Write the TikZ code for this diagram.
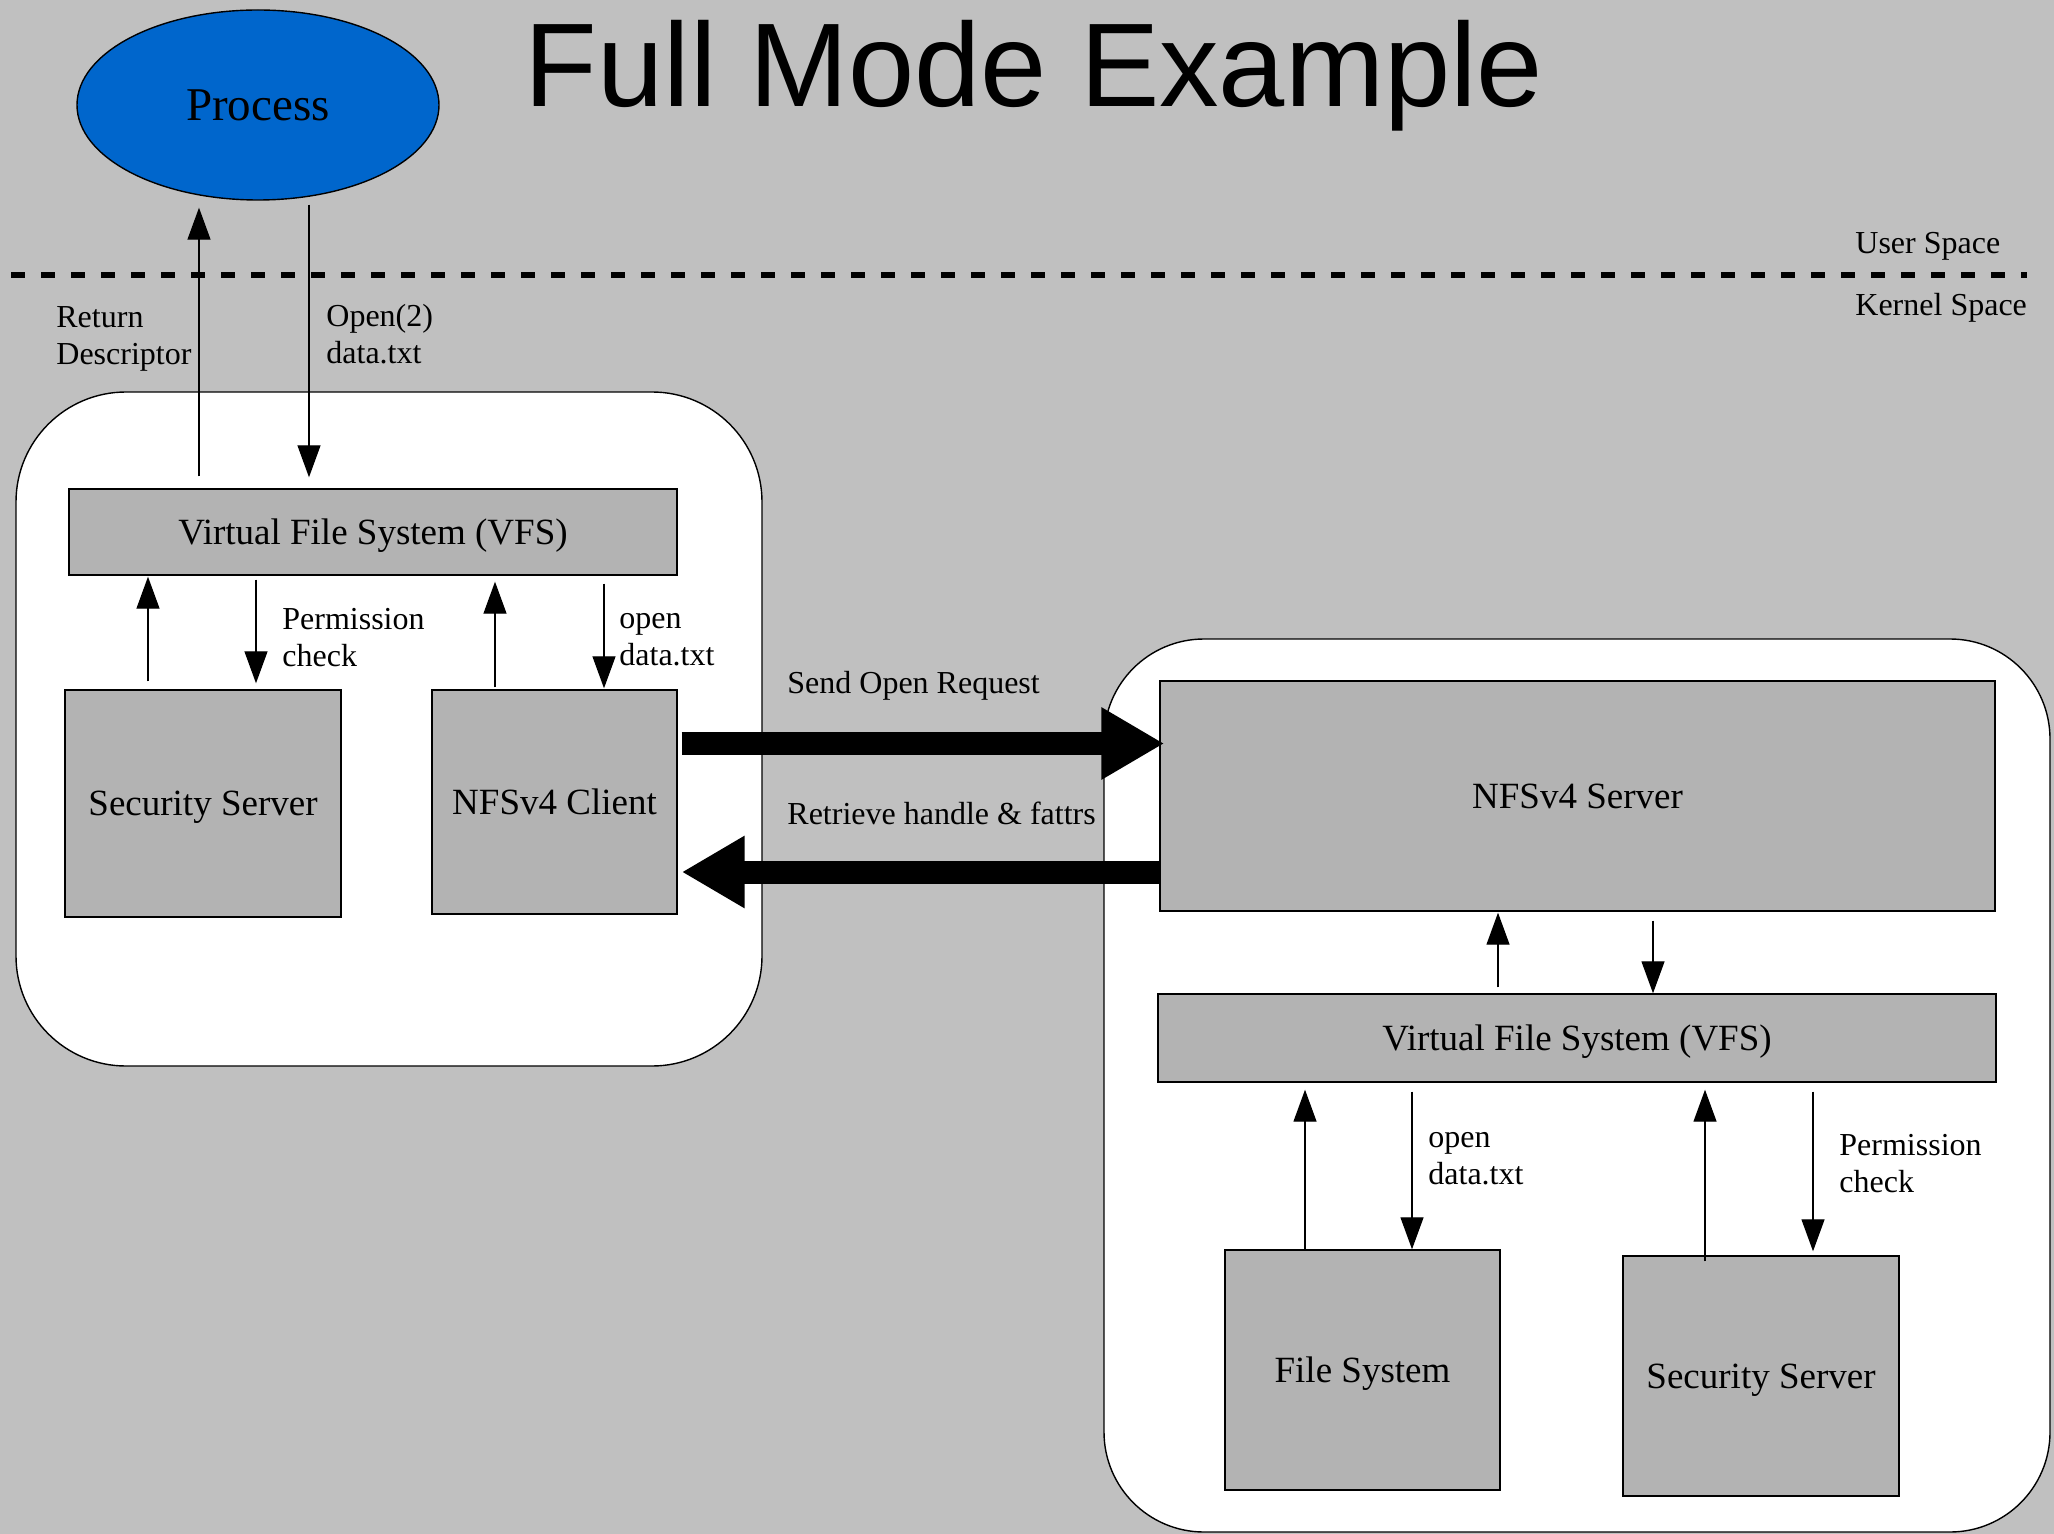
\documentclass[tikz,border=0pt]{standalone}
\usepackage{fontspec}
\setmainfont{Liberation Serif}
\newfontfamily\titlefont{Liberation Sans}
\usetikzlibrary{arrows.meta,shapes.geometric}
\definecolor{bg}{HTML}{C0C0C0}
\definecolor{boxgray}{HTML}{B3B3B3}
\definecolor{procblue}{HTML}{0066CC}
\begin{document}
\begin{tikzpicture}[x=0.5pt,y=-0.5pt,
  container/.style={draw=black, line width=0.7pt, fill=white, rounded corners=#1, inner sep=0},
  graybox/.style={draw=black, line width=0.7pt, fill=boxgray, inner sep=0, text depth=0pt, font=\fontsize{18.5}{22}\selectfont},
  lbl/.style={inner sep=0, anchor=west, align=left, font=\fontsize{16}{18.5}\selectfont},
  arr/.style={line width=0.65pt, -{Triangle[length=16pt,width=11.5pt]}},
  bigarr/.style={line width=11.5pt, -{Triangle[length=31.5pt,width=34pt]}}
]
\fill[bg] (0,0) rectangle (2054,1534);
\useasboundingbox (0,0) rectangle (2054,1534);

% title and separator
\node[inner sep=0, anchor=base, font=\titlefont\fontsize{59.5}{70}\selectfont] (title) at (1034,107) {Full Mode Example};
\draw[line width=3pt, dash pattern=on 7pt off 8pt] (11,275) -- (2027,275);
\node[lbl] (luser) at (1855,246) {User Space};
\node[lbl] (lkern) at (1855,308) {Kernel Space};

% process
\node[ellipse, draw=black, line width=0.7pt, fill=procblue, minimum width=181pt, minimum height=95pt, inner sep=0] (proc) at (258,105) {\fontsize{23.5}{28}\selectfont Process};

% containers
\node[container=55pt, minimum width=373pt, minimum height=337pt] (contL) at (389,729) {};
\node[container=50pt, minimum width=473pt, minimum height=446.5pt] (contR) at (1577,1085.5) {};

% left boxes
\node[graybox, minimum width=304pt, minimum height=43pt] (vfsL) at (373,532) {Virtual File System (VFS)};
\node[graybox, minimum width=138pt, minimum height=113.5pt] (secL) at (203,803.5) {Security Server};
\node[graybox, minimum width=122.5pt, minimum height=112pt] (cliL) at (554.5,802) {NFSv4 Client};

% right boxes
\node[graybox, minimum width=417.5pt, minimum height=115pt] (srv) at (1577.5,796) {NFSv4 Server};
\node[graybox, minimum width=419pt, minimum height=44pt] (vfsR) at (1577,1038) {Virtual File System (VFS)};
\node[graybox, minimum width=137.5pt, minimum height=120pt] (fs) at (1362.5,1370) {File System};
\node[graybox, minimum width=138pt, minimum height=120pt] (secR) at (1761,1376) {Security Server};

% x positions of thin connectors
\coordinate (xa) at (199,0);
\coordinate (xb) at (309,0);
\coordinate (xc) at (148,0);
\coordinate (xd) at (256,0);
\coordinate (xe) at (495,0);
\coordinate (xf) at (604,0);
\coordinate (xg) at (1498,0);
\coordinate (xh) at (1653,0);
\coordinate (xi) at (1305,0);
\coordinate (xj) at (1412,0);
\coordinate (xk) at (1705,0);
\coordinate (xl) at (1813,0);
\coordinate (ysend) at (0,743.5);
\coordinate (yret) at (0,872);

% process <-> VFS
\draw[arr, shorten <=6pt, shorten >=3.5pt] (vfsL.north -| xa) -- (proc.south -| xa);
\draw[arr, shorten <=2pt, shorten >=5.5pt] (proc.south -| xb) -- (vfsL.north -| xb);

% left inner
\draw[arr, shorten <=4pt, shorten >=0.5pt] (secL.north -| xc) -- (vfsL.south -| xc);
\draw[arr, shorten <=2pt, shorten >=3pt] (vfsL.south -| xd) -- (secL.north -| xd);
\draw[arr, shorten <=1pt, shorten >=3pt] (cliL.north -| xe) -- (vfsL.south -| xe);
\draw[arr, shorten <=4pt, shorten >=0.5pt] (vfsL.south -| xf) -- (cliL.north -| xf);

% right inner
\draw[arr, shorten <=3pt, shorten >=0.5pt] (vfsR.north -| xg) -- (srv.south -| xg);
\draw[arr, shorten <=4.5pt] (srv.south -| xh) -- (vfsR.north -| xh);
\draw[arr, shorten >=3.5pt] (fs.north -| xi) -- (vfsR.south -| xi);
\draw[arr, shorten <=4.5pt] (vfsR.south -| xj) -- (fs.north -| xj);
\draw[arr, shorten <=-3pt, shorten >=3.5pt] (secR.north -| xk) -- (vfsR.south -| xk);
\draw[arr, shorten <=4.5pt, shorten >=2pt] (vfsR.south -| xl) -- (secR.north -| xl);

% big arrows
\draw[bigarr, shorten <=2pt, shorten >=-2.5pt] (cliL.east |- ysend) -- (srv.west |- ysend);
\draw[bigarr, shorten >=2pt] (srv.west |- yret) -- (cliL.east |- yret);

% labels
\node[lbl] (lretd) at (56,339) {Return\\Descriptor};
\node[lbl] (lopen) at (326,334) {Open(2)\\data.txt};
\node[lbl] (lperm1) at (282,638) {Permission\\check};
\node[lbl] (lopen1) at (619,640) {open\\data.txt};
\node[lbl] (lsend) at (787,686) {Send Open Request};
\node[lbl] (lret) at (787,813) {Retrieve handle \& fattrs};
\node[lbl] (lopen2) at (1428,1159) {open\\data.txt};
\node[lbl] (lperm2) at (1839,1164) {Permission\\check};
\end{tikzpicture}
\end{document}
